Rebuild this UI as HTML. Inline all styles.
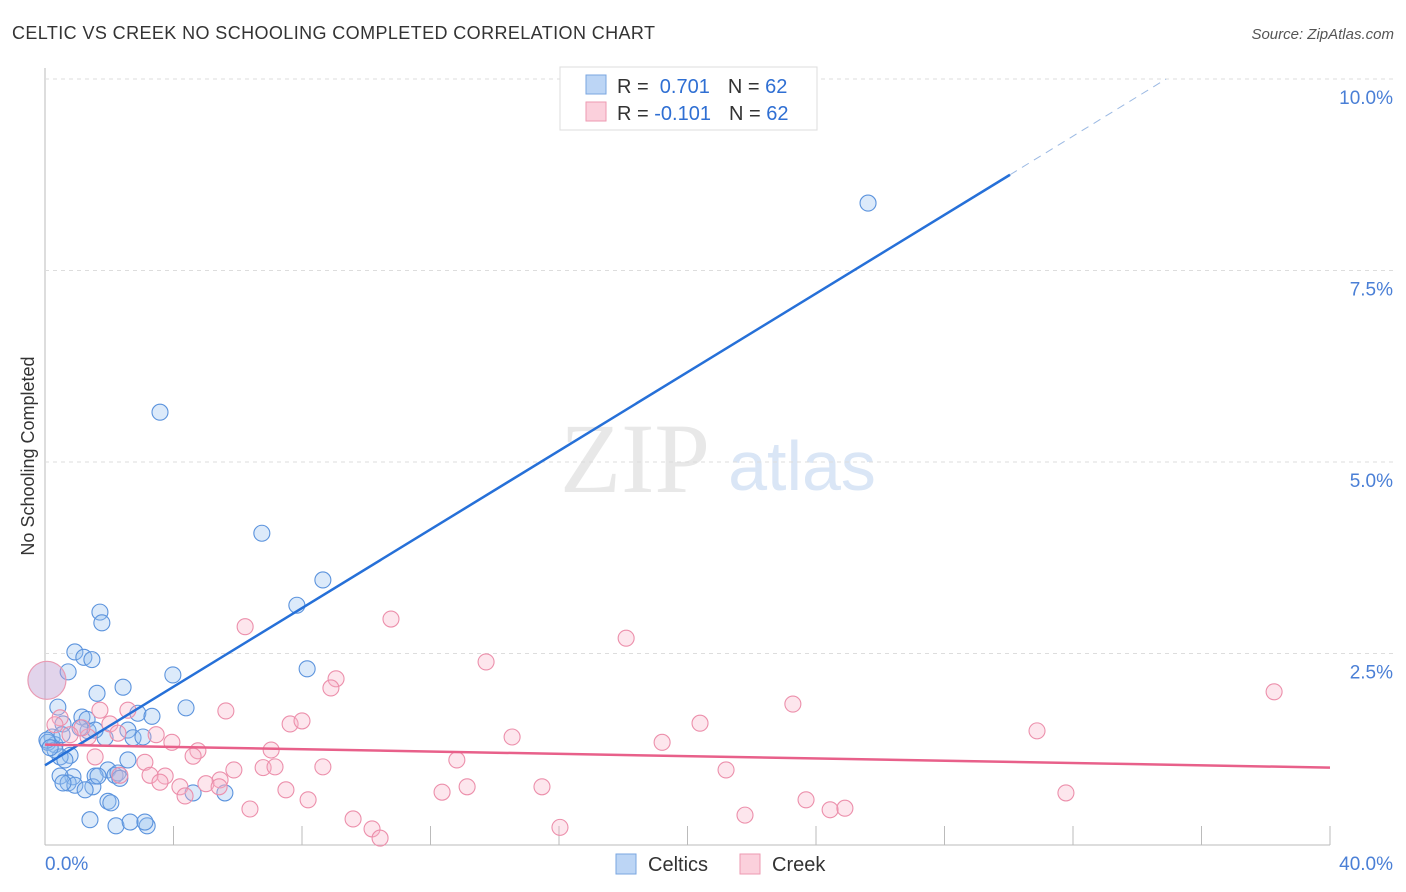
<!DOCTYPE html>
<html><head><meta charset="utf-8"><style>
body{margin:0;background:#fff;font-family:"Liberation Sans",sans-serif;}
svg{display:block}
</style></head><body>
<svg id="chart" width="1406" height="892">
<text x="12" y="39" font-size="18" fill="#333" textLength="643">CELTIC VS CREEK NO SCHOOLING COMPLETED CORRELATION CHART</text>
<text x="1394" y="39" font-size="15" font-style="italic" fill="#555" text-anchor="end">Source: ZipAtlas.com</text>
<text x="0" y="0" transform="translate(34,456) rotate(-90)" font-size="18" fill="#333" text-anchor="middle">No Schooling Completed</text>
<text x="635" y="492" font-size="100" font-family="Liberation Serif,serif" fill="#e8e8e8" text-anchor="middle">ZIP</text>
<text x="802" y="490" font-size="70" fill="#dae6f6" text-anchor="middle">atlas</text>
<g id="grid"></g><g id="marks"></g><g id="lines"></g>
<g>
<rect x="560" y="67" width="257" height="63" fill="#fff" stroke="#ddd"/>
<rect x="586" y="75" width="20" height="19" fill="#bcd5f5" stroke="#7aa6e0"/>
<text x="617" y="93" font-size="20" fill="#333">R = <tspan fill="#2f6fd3">&#160;0.701</tspan><tspan dx="18">N = </tspan><tspan fill="#2f6fd3">62</tspan></text>
<rect x="586" y="102" width="20" height="19" fill="#fbd0dc" stroke="#ee9ab2"/>
<text x="617" y="120" font-size="20" fill="#333">R = <tspan fill="#2f6fd3">-0.101</tspan><tspan dx="18">N = </tspan><tspan fill="#2f6fd3">62</tspan></text>
</g>
<g>
<rect x="616" y="854" width="20" height="20" fill="#bcd5f5" stroke="#7aa6e0"/>
<text x="648" y="871" font-size="20" fill="#333">Celtics</text>
<rect x="740" y="854" width="20" height="20" fill="#fbd0dc" stroke="#ee9ab2"/>
<text x="772" y="871" font-size="20" fill="#333">Creek</text>
</g>
<text x="45" y="870" font-size="19" fill="#4a7fd6">0.0%</text>
<text x="1393" y="870" font-size="19" fill="#4a7fd6" text-anchor="end">40.0%</text>
</svg>
<script>
const yTicks=[2.5,5,7.5,10];
const yTickLabels=["2.5%","5.0%","7.5%","10.0%"];
const celticsX=[3.58,6.75,8.65,7.84,1.71,1.77,0.93,1.21,1.46,0.72,3.98,8.16,1.62,2.43,4.39,0.40,1.15,1.31,2.89,3.33,0.22,0.56,0.31,0.78,0.47,1.87,2.58,2.74,1.34,1.09,0.09,1.96,2.58,2.18,1.56,0.87,0.47,0.72,0.93,1.49,2.27,1.96,2.05,1.40,2.21,2.65,3.18,3.11,4.61,5.60,25.62,0.31,0.62,0.06,0.16,1.65,2.33,3.05,0.56,1.25,0.53,1.56];
const celticsY=[5.65,4.07,3.46,3.13,3.04,2.90,2.52,2.45,2.42,2.26,2.22,2.30,1.98,2.06,1.79,1.80,1.67,1.64,1.72,1.68,1.41,1.58,1.31,1.17,1.15,1.40,1.50,1.40,1.49,1.53,1.34,0.98,1.11,0.91,0.90,0.89,0.90,0.81,0.78,0.76,0.94,0.57,0.55,0.33,0.25,0.30,0.25,0.30,0.68,0.68,8.38,1.24,1.11,1.37,1.27,0.90,0.87,1.41,0.81,0.72,1.44,1.50];
const creekX=[6.23,10.77,18.09,13.73,9.06,8.90,38.26,5.63,23.28,20.39,30.88,7.63,8.00,14.54,19.21,3.46,3.95,4.76,4.61,7.04,1.34,1.15,1.71,2.58,2.02,2.27,3.11,5.45,5.88,6.79,7.16,8.65,12.82,15.47,13.14,12.36,21.20,2.33,3.74,4.20,5.01,4.36,5.42,7.50,8.19,6.38,9.59,10.18,10.43,16.03,21.79,23.69,24.44,24.90,31.78,0.47,0.31,1.56,0.78,3.27,3.58];
const creekY=[2.85,2.95,2.70,2.39,2.17,2.05,2.00,1.75,1.84,1.59,1.49,1.58,1.62,1.41,1.34,1.44,1.34,1.23,1.16,1.24,1.41,1.53,1.76,1.76,1.58,1.46,1.08,0.85,0.98,1.01,1.02,1.02,1.11,0.76,0.76,0.69,0.98,0.91,0.90,0.76,0.80,0.64,0.76,0.72,0.59,0.47,0.34,0.21,0.09,0.23,0.39,0.59,0.46,0.48,0.68,1.66,1.57,1.15,1.44,0.91,0.82];
const bigX=[0.06], bigY=[2.15];
const celticsTrend=[[0,1.04],[30.04,8.75],[34.9,10.0]];
const creekTrend=[[0,1.31],[40,1.01]];
const xTicks=[0,4,8,12,16,20,24,28,32,36,40];

const NS="http://www.w3.org/2000/svg";
const X=v=>45+v*32.125, Y=v=>845-v*76.6;
function mk(tag,attrs,parent){const e=document.createElementNS(NS,tag);for(const k in attrs)e.setAttribute(k,attrs[k]);document.getElementById(parent).appendChild(e);return e;}
let e=mk('line',{x1:45,y1:68,x2:45,y2:845,stroke:'#bbb'},'grid');


e=mk('line',{x1:45,y1:845,x2:1330,y2:845,stroke:'#bbb'},'grid');


xTicks.forEach(t=>{const l=mk('line',{x1:X(t),y1:826,x2:X(t),y2:845,stroke:'#bbb'},'grid');

});
yTicks.forEach((t,i)=>{const l=mk('line',{x1:45,y1:Y(t),x2:1393,y2:Y(t),stroke:'#ddd','stroke-dasharray':'4,4'},'grid');


const tx=mk('text',{x:1393,y:Y(t)+25,'font-size':19,fill:'#4a7fd6','text-anchor':'end'},'grid');tx.textContent=yTickLabels[i];

});
celticsX.forEach((v,i)=>{const c=mk('circle',{cx:X(v),cy:Y(celticsY[i]),r:8,fill:'rgba(150,190,240,0.33)',stroke:'#5b93dd','stroke-width':1.1},'marks');

});
creekX.forEach((v,i)=>{const c=mk('circle',{cx:X(v),cy:Y(creekY[i]),r:8,fill:'rgba(248,180,200,0.33)',stroke:'#ec8fab','stroke-width':1.1},'marks');

});
bigX.forEach((v,i)=>{const c=mk('circle',{cx:X(v),cy:Y(bigY[i]),r:19,fill:'rgba(190,160,210,0.45)',stroke:'#e99ab3','stroke-width':1.2},'marks');

});
let l=mk('line',{x1:X(celticsTrend[0][0]),y1:Y(celticsTrend[0][1]),x2:X(celticsTrend[1][0]),y2:Y(celticsTrend[1][1]),stroke:'#2670d8','stroke-width':2.5},'lines');


l=mk('line',{x1:X(celticsTrend[1][0]),y1:Y(celticsTrend[1][1]),x2:X(celticsTrend[2][0]),y2:Y(celticsTrend[2][1]),stroke:'#9bb9e3','stroke-width':1,'stroke-dasharray':'8,6'},'lines');


l=mk('line',{x1:X(creekTrend[0][0]),y1:Y(creekTrend[0][1]),x2:X(creekTrend[1][0]),y2:Y(creekTrend[1][1]),stroke:'#e8608a','stroke-width':2.5},'lines');


</script>
</body></html>
